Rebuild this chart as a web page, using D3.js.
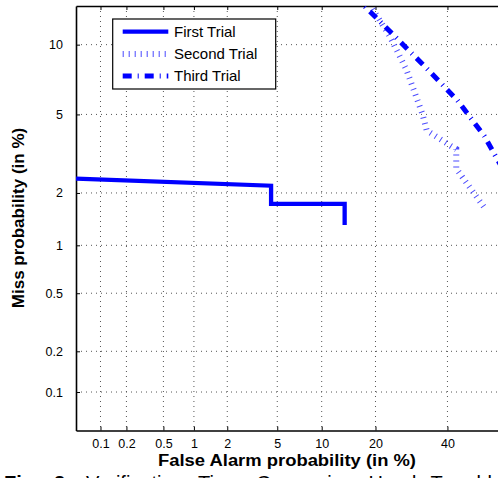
<!DOCTYPE html>
<html>
<head>
<meta charset="utf-8">
<script src="https://cdn.jsdelivr.net/npm/d3@7"></script>
<style>
  html, body { margin: 0; padding: 0; background: #fff; }
  svg { display: block; }
  text { font-family: "Liberation Sans", Arial, Helvetica, sans-serif; }
</style>
</head>
<body>
<svg id="chart" width="498" height="478"></svg>
<script>
// ---- data (percent) ----
const xTickValues = [0.1, 0.2, 0.5, 1, 2, 5, 10, 20, 40];
const xTickLabels = ["0.1", "0.2", "0.5", "1", "2", "5", "10", "20", "40"];
const yTickValues = [0.1, 0.2, 0.5, 1, 2, 5, 10];
const yTickLabels = ["0.1", "0.2", "0.5", "1", "2", "5", "10"];
const xLimits = [0.05, 57];
const yLimits = [0.05, 14];

const seriesNames = ["First Trial", "Second Trial", "Third Trial"];

const firstFA   = [0.05, 4.5, 4.5, 13.7, 13.7];
const firstMiss = [2.39, 2.19, 1.74, 1.74, 1.32];

const secondFA   = [18.1, 19.4, 23.4, 27.8, 32.4, 33.6, 41.3, 42.8, 42.8, 51.7];
const secondMiss = [14.9, 13.6, 10.8, 7.9, 5.0, 4.2, 3.5, 3.4, 2.7, 1.68];

const thirdFA   = [15.5, 20.8, 33.5, 43.2, 52.0, 56.2, 60.0];
const thirdMiss = [15.2, 12.4, 8.03, 5.80, 3.93, 3.0, 2.36];

// ---- inverse normal CDF (Acklam) ----
function probit(p) {
  const a = [-3.969683028665376e+01, 2.209460984245205e+02, -2.759285104469687e+02,
             1.383577518672690e+02, -3.066479806614716e+01, 2.506628277459239e+00];
  const b = [-5.447609879822406e+01, 1.615858368580409e+02, -1.556989798598866e+02,
             6.680131188771972e+01, -1.328068155288572e+01];
  const c = [-7.784894002430293e-03, -3.223964580411365e-01, -2.400758277161838e+00,
             -2.549732539343734e+00, 4.374664141464968e+00, 2.938163982698783e+00];
  const d = [7.784695709041462e-03, 3.224671290700398e-01, 2.445134137142996e+00,
             3.754408661907416e+00];
  const pl = 0.02425, ph = 1 - pl;
  let q, r;
  if (p < pl) {
    q = Math.sqrt(-2 * Math.log(p));
    return (((((c[0]*q+c[1])*q+c[2])*q+c[3])*q+c[4])*q+c[5]) /
           ((((d[0]*q+d[1])*q+d[2])*q+d[3])*q+1);
  } else if (p <= ph) {
    q = p - 0.5; r = q*q;
    return (((((a[0]*r+a[1])*r+a[2])*r+a[3])*r+a[4])*r+a[5])*q /
           (((((b[0]*r+b[1])*r+b[2])*r+b[3])*r+b[4])*r+1);
  } else {
    q = Math.sqrt(-2 * Math.log(1 - p));
    return -(((((c[0]*q+c[1])*q+c[2])*q+c[3])*q+c[4])*q+c[5]) /
            ((((d[0]*q+d[1])*q+d[2])*q+d[3])*q+1);
  }
}
const pr = v => probit(v / 100);

// ---- layout ----
const svg = d3.select("#chart");
const L = 76, R = 500, T = 6, B = 430.5;

const x = d3.scaleLinear().domain([pr(xLimits[0]), pr(xLimits[1])]).range([L, R]);
const y = d3.scaleLinear().domain([pr(yLimits[0]), pr(yLimits[1])]).range([B, T]);

svg.append("defs").append("clipPath").attr("id", "plotclip")
  .append("rect").attr("x", L).attr("y", T).attr("width", R - L).attr("height", B - T);

// grid
const grid = svg.append("g");
grid.selectAll(".gx").data(xTickValues).enter().append("line")
  .attr("x1", d => x(pr(d))).attr("x2", d => x(pr(d)))
  .attr("y1", T).attr("y2", B)
  .attr("stroke", "#555").attr("stroke-width", 1).attr("stroke-dasharray", "1,4");
grid.selectAll(".gy").data(yTickValues).enter().append("line")
  .attr("y1", d => y(pr(d))).attr("y2", d => y(pr(d)))
  .attr("x1", L).attr("x2", R)
  .attr("stroke", "#555").attr("stroke-width", 1).attr("stroke-dasharray", "1,4");

// axes
const xAxis = d3.axisBottom(x).tickValues(xTickValues.map(pr))
  .tickFormat((d, i) => xTickLabels[i]).tickSizeInner(-4).tickSizeOuter(0).tickPadding(8.5);
const gx = svg.append("g").attr("transform", `translate(0,${B})`).call(xAxis);
const xAxisTop = d3.axisTop(x).tickValues(xTickValues.map(pr))
  .tickFormat("").tickSizeInner(-4).tickSizeOuter(0);
const gxt = svg.append("g").attr("transform", `translate(0,${T})`).call(xAxisTop);
const yAxis = d3.axisLeft(y).tickValues(yTickValues.map(pr))
  .tickFormat((d, i) => yTickLabels[i]).tickSizeInner(-4).tickSizeOuter(0).tickPadding(13);
const gy = svg.append("g").attr("transform", `translate(${L},0)`).call(yAxis);

[gx, gxt, gy].forEach(g => {
  g.select(".domain").attr("stroke", "#000").attr("stroke-width", 1.6);
  g.selectAll(".tick line").attr("stroke", "#000").attr("stroke-width", 1);
  g.selectAll(".tick text").attr("font-size", 12.5).attr("fill", "#000")
    .attr("font-family", "'Liberation Sans', Arial, sans-serif");
});

// curves
const line = d3.line().x(d => x(pr(d[0]))).y(d => y(pr(d[1])));
const plot = svg.append("g").attr("clip-path", "url(#plotclip)");
const styles = [
  { stroke: "#0000ff", width: 4.3, dash: null, opacity: 1 },
  { stroke: "#2a2aff", width: 6, dash: "1,5", opacity: 0.85 },
  { stroke: "#0000ff", width: 5, dash: "9,6,1,6", opacity: 1 }
];
const seriesData = [
  d3.zip(firstFA, firstMiss),
  d3.zip(secondFA, secondMiss),
  d3.zip(thirdFA, thirdMiss)
];
seriesData.forEach((data, i) => {
  const s = styles[i];
  plot.append("path").datum(data).attr("d", line)
    .attr("fill", "none").attr("stroke", s.stroke).attr("stroke-width", s.width)
    .attr("stroke-opacity", s.opacity)
    .attr("stroke-dasharray", s.dash).attr("stroke-linejoin", "miter");
});

// legend
const lg = svg.append("g");
lg.append("rect").attr("x", 112.7).attr("y", 19).attr("width", 163).attr("height", 70)
  .attr("fill", "#fff").attr("stroke", "#000").attr("stroke-width", 1.2);
seriesNames.forEach((name, i) => {
  const s = styles[i];
  const yy = 31.7 + i * 22.2;
  lg.append("line").attr("x1", 122.7).attr("x2", 168.3).attr("y1", yy).attr("y2", yy)
    .attr("stroke", s.stroke).attr("stroke-width", s.width).attr("stroke-opacity", s.opacity)
    .attr("stroke-dasharray", s.dash);
  lg.append("text").attr("x", 174).attr("y", yy + 5).attr("font-size", 15)
    .attr("fill", "#000").text(name);
});

// axis titles
svg.append("text").attr("x", 287).attr("y", 465.5).attr("text-anchor", "middle")
  .attr("font-size", 16).attr("font-weight", "bold").attr("fill", "#000")
  .attr("textLength", 258).attr("lengthAdjust", "spacingAndGlyphs")
  .text("False Alarm probability (in %)");
svg.append("text").attr("transform", `translate(24,218) rotate(-90)`)
  .attr("text-anchor", "middle")
  .attr("font-size", 17).attr("font-weight", "bold").attr("fill", "#000")
  .text("Miss probability (in %)");

// caption (cut off by the bottom edge, as in the reference)
const cap = svg.append("text").attr("x", 4).attr("y", 490)
  .attr("font-family", "'Liberation Serif', 'Times New Roman', serif")
  .attr("font-size", 20).attr("fill", "#000").attr("word-spacing", 9);
cap.append("tspan").attr("font-weight", "bold").text("Fig. 2:");
cap.append("tspan").attr("dx", 14).text("Verification Time Comparing Hand Tremble");
</script>
</body>
</html>
